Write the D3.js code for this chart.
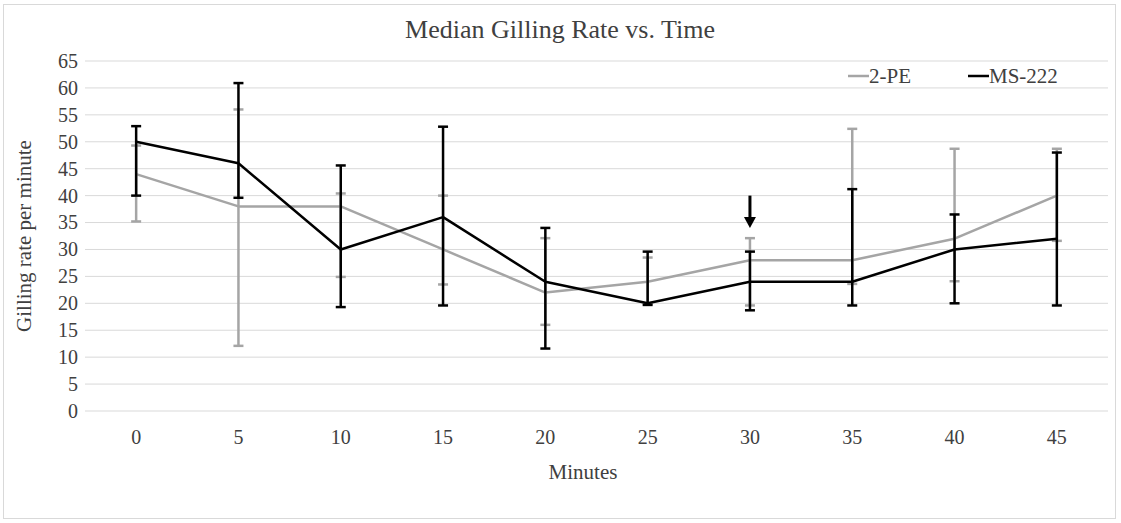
<!DOCTYPE html>
<html><head><meta charset="utf-8">
<script src="https://cdn.jsdelivr.net/npm/d3@7"></script>
<style>body{margin:0;background:#fff}svg{display:block}</style>
</head><body>
<script>
const minutes = [0,5,10,15,20,25,30,35,40,45];
const pe2 = [44,38,38,30,22,24,28,28,32,40];
const pe2Hi = [49.3,56,40.4,40,32.1,28.5,32.1,52.4,48.7,48.7];
const pe2Lo = [35.2,12.1,24.9,23.5,16,20,19.6,23.6,24.1,31.6];
const ms222 = [50,46,30,36,24,20,24,24,30,32];
const msHi = [52.9,60.9,45.6,52.8,34,29.6,29.6,41.2,36.5,48];
const msLo = [40,39.6,19.3,19.6,11.6,19.7,18.7,19.6,20,19.6];
const yTicks = [0,5,10,15,20,25,30,35,40,45,50,55,60,65];
const arrowMinute = 30, arrowFrom = 40, arrowTo = 34;

const W=1121,H=523;
const svg=d3.select("body").append("svg").attr("width",W).attr("height",H);
svg.append("rect").attr("x",3.5).attr("y",4.5).attr("width",1112).attr("height",514)
  .attr("fill","#fff").attr("stroke","#d9d9d9");
const font="'Liberation Serif','Times New Roman',serif";
const x=d3.scaleBand().domain(minutes).range([85,1108]);
const y=d3.scaleLinear().domain([0,65]).range([411,61]);
const cx=d=>x(d)+x.bandwidth()/2;

svg.append("g").selectAll("line").data(yTicks).join("line")
  .attr("x1",85).attr("x2",1108).attr("y1",d=>y(d)).attr("y2",d=>y(d))
  .attr("stroke","#d9d9d9").attr("stroke-width",1);

const ya=svg.append("g").attr("transform","translate(85,0)")
  .call(d3.axisLeft(y).tickValues(yTicks).tickSize(0).tickPadding(7));
ya.select(".domain").remove();
ya.selectAll("text").attr("font-family",font).attr("font-size",20).attr("fill","#404040");

const xa=svg.append("g").attr("transform","translate(0,411)")
  .call(d3.axisBottom(x).tickSize(0).tickPadding(19));
xa.select(".domain").remove();
xa.selectAll("text").attr("font-family",font).attr("font-size",20).attr("fill","#404040");

svg.append("text").attr("x",560).attr("y",38).attr("text-anchor","middle")
  .attr("font-family",font).attr("font-size",26).attr("fill","#404040").text("Median Gilling Rate vs. Time");
svg.append("text").attr("x",583).attr("y",479).attr("text-anchor","middle")
  .attr("font-family",font).attr("font-size",21).attr("fill","#404040").text("Minutes");
svg.append("text").attr("transform","translate(31,236) rotate(-90)").attr("text-anchor","middle")
  .attr("font-family",font).attr("font-size",21).attr("fill","#404040").text("Gilling rate per minute");

function series(vals,hi,lo,color){
  const g=svg.append("g");
  const eb=g.selectAll("g").data(minutes.map((m,i)=>({m,hi:hi[i],lo:lo[i]}))).join("g");
  eb.append("line").attr("x1",d=>cx(d.m)).attr("x2",d=>cx(d.m)).attr("y1",d=>y(d.hi)).attr("y2",d=>y(d.lo))
    .attr("stroke",color).attr("stroke-width",2.5);
  eb.append("line").attr("x1",d=>cx(d.m)-5).attr("x2",d=>cx(d.m)+5).attr("y1",d=>y(d.hi)).attr("y2",d=>y(d.hi))
    .attr("stroke",color).attr("stroke-width",2.5);
  eb.append("line").attr("x1",d=>cx(d.m)-5).attr("x2",d=>cx(d.m)+5).attr("y1",d=>y(d.lo)).attr("y2",d=>y(d.lo))
    .attr("stroke",color).attr("stroke-width",2.5);
  g.append("path").datum(vals).attr("fill","none").attr("stroke",color).attr("stroke-width",2.5)
    .attr("stroke-linejoin","round")
    .attr("d",d3.line().x((d,i)=>cx(minutes[i])).y(d=>y(d)));
}
series(pe2,pe2Hi,pe2Lo,"#a5a5a5");
series(ms222,msHi,msLo,"#000");

// arrow
const ax=cx(arrowMinute);
svg.append("line").attr("x1",ax).attr("x2",ax).attr("y1",y(arrowFrom)).attr("y2",y(arrowTo)-8)
  .attr("stroke","#000").attr("stroke-width",3);
svg.append("path").attr("d",`M${ax-6},${y(arrowTo)-11}L${ax+6},${y(arrowTo)-11}L${ax},${y(arrowTo)}Z`).attr("fill","#000");

// legend
const leg=[{n:"2-PE",c:"#a5a5a5",x:848},{n:"MS-222",c:"#000",x:968}];
const lg=svg.append("g").selectAll("g").data(leg).join("g");
lg.append("line").attr("x1",d=>d.x).attr("x2",d=>d.x+21).attr("y1",76).attr("y2",76)
  .attr("stroke",d=>d.c).attr("stroke-width",2.5);
lg.append("text").attr("x",d=>d.x+21).attr("y",83).attr("font-family",font).attr("font-size",21)
  .attr("fill","#404040").text(d=>d.n);
</script>
</body></html>
